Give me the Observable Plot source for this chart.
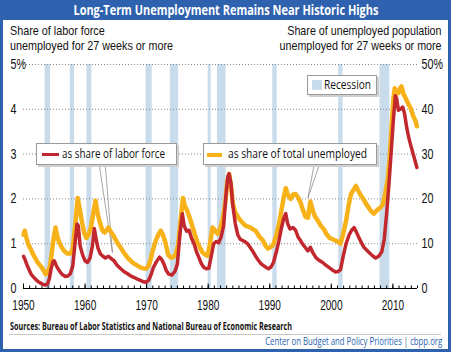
<!DOCTYPE html>
<html>
<head>
<meta charset="utf-8">
<script src="https://cdn.jsdelivr.net/npm/d3@7"></script>
<script src="https://cdn.jsdelivr.net/npm/@observablehq/plot@0.6"></script>
<style>
  html, body { margin: 0; padding: 0; background: #fff; }
  #frame { position: relative; width: 451px; height: 352px; background: #2f62ae; overflow: hidden;
    font-family: 'Open Sans', 'Liberation Sans', sans-serif; color: #111; }
  #title { position: absolute; left: 0; top: 0; width: 451px; height: 20px; line-height: 20px; text-align: center;
    color: #fff; font-weight: bold; font-size: 14px; white-space: nowrap; }
  #panel { position: absolute; left: 3px; top: 20px; width: 445px; height: 329px; background: #fff; }
  .tx { position: absolute; display: inline-block; white-space: nowrap; }
  .f13 { font-size: 13px; line-height: 13px; }
  .f10 { font-size: 10px; line-height: 10px; }
  .hd { font-family: 'Liberation Sans', Arial, sans-serif; font-size: 13px; line-height: 15px; }
  #chart { position: absolute; left: 0; top: 50px; }
  #chart svg { overflow: visible; }
  .lg { position: absolute; background: #fff; border: 1px solid #9a9a9a; box-shadow: 2px 2px 0 #d0d0d0; box-sizing: border-box; }
  .sw { position: absolute; }
  #sep { position: absolute; left: 9px; top: 334px; width: 432px; height: 1px; background: #c8c8c8; }
</style>
</head>
<body>
<div id="frame">
  <div id="title"><span class="fit" style="display:inline-block" data-w="305" data-o="center">Long-Term Unemployment Remains Near Historic Highs</span></div>
  <div id="panel"></div>

  <span class="tx hd fit" style="left:10px;top:22.7px" data-w="163" data-o="left">Share of labor force<br>unemployed for 27 weeks or more</span>
  <span class="tx hd fit" style="right:9px;top:22.7px;text-align:right" data-w="162" data-o="right">Share of unemployed population<br>unemployed for 27 weeks or more</span>

  <div id="chart"></div>

  <div class="lg" style="left:36px;top:143px;width:141px;height:22px;"></div>
  <div class="sw" style="left:42px;top:153px;width:17px;height:3px;background:#c1272d;"></div>
  <span class="tx f13 fit" style="left:62px;top:146.5px" data-w="103" data-o="left">as share of labor force</span>

  <div class="lg" style="left:203px;top:143px;width:174px;height:22px;"></div>
  <div class="sw" style="left:207px;top:153px;width:15px;height:4px;background:#f8b219;"></div>
  <span class="tx f13 fit" style="left:228px;top:146.5px" data-w="139" data-o="left">as share of total unemployed</span>

  <div class="lg" style="left:307px;top:75px;width:70px;height:20px;"></div>
  <div class="sw" style="left:312px;top:80px;width:10px;height:10px;background:#c8dcec;"></div>
  <span class="tx f13 fit" style="left:324px;top:77.5px" data-w="47" data-o="left">Recession</span>

  <span class="tx f10 fit" style="left:10px;top:321px;font-weight:bold" data-w="282" data-o="left">Sources: Bureau of Labor Statistics and National Bureau of Economic Research</span>
  <div id="sep"></div>
  <span class="tx f10 fit" style="right:9px;top:336px;color:#2a62ad" data-w="177" data-o="right">Center on Budget and Policy Priorities | cbpp.org</span>
</div>
<script>
// ---- Data ----
const recessionStarts = [1953.5, 1957.6, 1960.3, 1969.9, 1973.85, 1980.0, 1981.5, 1990.5, 2001.2, 2007.9];
const recessionEnds   = [1954.4, 1958.3, 1961.1, 1970.9, 1975.2, 1980.5, 1982.9, 1991.2, 2001.9, 2009.5];

// Long-term unemployed as share of labor force (%)
const laborDates = [1950.0,1950.2,1950.5,1950.8,1951.2,1951.6,1952.0,1952.4,1952.8,1953.2,1953.6,1953.9,1954.2,1954.5,1954.8,1955.0,1955.3,1955.6,1956.0,1956.4,1956.8,1957.2,1957.6,1958.0,1958.4,1958.7,1958.9,1959.2,1959.6,1960.0,1960.4,1960.8,1961.2,1961.5,1961.8,1962.1,1962.5,1962.9,1963.3,1963.8,1964.3,1964.7,1965.2,1965.8,1966.3,1966.9,1967.4,1967.9,1968.5,1969.0,1969.5,1969.9,1970.3,1970.7,1971.1,1971.6,1972.1,1972.4,1972.8,1973.2,1973.6,1974.1,1974.6,1975.0,1975.4,1975.8,1976.1,1976.5,1976.9,1977.3,1977.7,1978.1,1978.5,1978.9,1979.3,1979.7,1980.1,1980.5,1980.9,1981.3,1981.7,1982.1,1982.5,1982.9,1983.2,1983.4,1983.7,1984.0,1984.4,1984.8,1985.2,1985.6,1986.0,1986.4,1986.8,1987.2,1987.7,1988.2,1988.6,1989.0,1989.4,1989.8,1990.2,1990.6,1991.0,1991.5,1991.9,1992.3,1992.6,1992.9,1993.3,1993.8,1994.2,1994.6,1995.0,1995.4,1995.8,1996.2,1996.6,1997.0,1997.5,1998.0,1998.6,1999.1,1999.6,2000.1,2000.7,2001.1,2001.5,2001.9,2002.4,2002.9,2003.3,2003.7,2004.1,2004.5,2004.9,2005.3,2005.8,2006.3,2006.8,2007.2,2007.7,2008.2,2008.6,2009.0,2009.4,2009.8,2010.1,2010.4,2010.6,2010.9,2011.2,2011.6,2011.9,2012.3,2012.7,2013.1,2013.5,2013.9];
const laborShare = [0.72,0.66,0.55,0.45,0.33,0.26,0.20,0.15,0.12,0.09,0.08,0.10,0.22,0.45,0.60,0.62,0.52,0.44,0.36,0.30,0.27,0.28,0.33,0.50,1.05,1.44,1.40,0.95,0.75,0.62,0.58,0.68,0.95,1.34,1.10,0.90,0.77,0.72,0.68,0.72,0.66,0.62,0.52,0.44,0.38,0.33,0.28,0.25,0.21,0.18,0.15,0.14,0.18,0.30,0.47,0.60,0.70,0.66,0.55,0.40,0.32,0.30,0.38,0.55,1.20,1.67,1.40,1.28,1.30,1.12,1.00,0.82,0.69,0.55,0.47,0.44,0.45,0.72,1.00,1.05,1.02,1.15,1.40,2.10,2.50,2.56,2.35,1.85,1.45,1.20,1.10,1.07,1.04,1.00,0.92,0.84,0.72,0.62,0.55,0.51,0.47,0.44,0.48,0.58,0.78,1.07,1.35,1.58,1.67,1.45,1.33,1.36,1.30,1.15,1.07,0.98,0.91,0.84,0.92,0.80,0.69,0.63,0.58,0.52,0.47,0.42,0.37,0.38,0.42,0.70,1.00,1.20,1.30,1.36,1.25,1.13,1.02,0.92,0.85,0.78,0.72,0.68,0.72,0.82,1.10,1.70,2.40,3.20,3.80,4.30,4.25,3.98,4.00,4.05,3.90,3.55,3.30,3.10,2.90,2.70];

// Long-term unemployed as share of total unemployed (%)
const unempDates = [1950.0,1950.2,1950.5,1950.8,1951.1,1951.5,1951.9,1952.3,1952.8,1953.2,1953.6,1953.9,1954.3,1954.6,1954.9,1955.2,1955.5,1955.8,1956.2,1956.6,1957.1,1957.6,1958.0,1958.4,1958.8,1959.1,1959.5,1959.9,1960.2,1960.6,1961.0,1961.3,1961.7,1962.0,1962.4,1962.8,1963.2,1963.8,1964.2,1964.6,1965.2,1965.8,1966.3,1966.9,1967.4,1967.9,1968.5,1969.0,1969.5,1969.9,1970.3,1970.6,1971.0,1971.5,1971.9,1972.3,1972.7,1973.1,1973.5,1973.9,1974.3,1974.7,1975.1,1975.5,1975.9,1976.2,1976.6,1977.0,1977.5,1977.9,1978.3,1978.7,1979.1,1979.5,1979.9,1980.3,1980.7,1981.1,1981.5,1981.9,1982.4,1982.8,1983.1,1983.4,1983.7,1984.0,1984.4,1984.9,1985.3,1985.7,1986.1,1986.5,1986.9,1987.3,1987.7,1988.3,1988.9,1989.3,1989.7,1990.1,1990.5,1991.0,1991.5,1991.9,1992.3,1992.6,1992.9,1993.4,1993.8,1994.2,1994.6,1995.0,1995.4,1995.8,1996.2,1996.6,1996.9,1997.3,1997.8,1998.3,1998.8,1999.2,1999.7,2000.2,2000.7,2001.1,2001.5,2001.9,2002.4,2002.8,2003.2,2003.6,2004.0,2004.3,2004.7,2005.1,2005.6,2006.1,2006.5,2006.9,2007.3,2007.7,2008.1,2008.4,2008.8,2009.2,2009.5,2009.8,2010.1,2010.3,2010.6,2010.9,2011.2,2011.4,2011.7,2012.1,2012.5,2012.9,2013.3,2013.7,2013.9];
const unempShare = [12.0,12.9,11.2,9.8,9.0,7.8,6.8,5.8,5.0,4.2,3.2,3.5,5.0,8.0,11.3,13.6,11.5,10.3,9.2,8.4,7.8,7.8,8.8,14.0,20.2,18.0,14.8,12.3,11.3,12.0,14.0,16.5,19.6,17.0,14.8,13.0,12.5,13.6,12.6,11.8,10.3,9.1,8.0,6.9,6.2,5.6,5.1,4.7,4.5,4.4,5.0,6.2,8.5,10.7,12.0,12.9,11.8,10.0,7.5,6.9,7.0,7.6,9.5,15.0,20.2,18.5,17.3,15.8,13.6,11.8,10.0,9.0,8.0,7.6,7.3,10.0,13.6,13.0,12.2,13.2,15.8,19.5,24.0,25.6,23.0,19.0,17.0,15.8,15.1,14.5,14.0,13.8,13.6,13.2,12.9,11.6,10.7,9.6,8.9,9.2,9.6,11.5,14.4,17.5,20.5,22.4,21.0,20.0,21.0,21.1,20.3,19.2,17.5,16.0,15.8,19.4,17.8,16.2,15.2,14.0,13.2,12.2,11.3,11.0,10.7,10.4,10.0,12.0,15.1,18.5,21.1,22.0,22.9,22.0,21.0,20.2,19.0,18.0,17.2,16.7,17.3,17.8,18.2,18.9,21.5,24.7,29.5,36.5,42.5,44.7,43.5,43.6,44.8,45.1,43.5,42.4,41.2,40.2,38.5,37.3,36.2];

const leftTicks = [0, 1, 2, 3, 4, 5];          // % of labor force (right axis shows x10)
const decadeTicks = [1950, 1960, 1970, 1980, 1990, 2000, 2010];
const yearTicks = d3.range(1950, 2015);

// ---- Build tables ----
const recessions = recessionStarts.map((s, i) => ({start: s, end: recessionEnds[i]}));
const labor = laborDates.map((d, i) => ({date: d, value: laborShare[i]}));
const unemp = unempDates.map((d, i) => ({date: d, value: unempShare[i]}));
// callout pointers: from legend box bottom edge to a point on the series
const callouts = [
  {x1: 1962.35, y1: 2.72, x2: 1964.45, y2: 0.80},
  {x1: 1963.3,  y1: 2.72, x2: 1964.45, y2: 0.80},
  {x1: 1997.15, y1: 2.72, x2: 1996.2,  y2: 2.02},
  {x1: 1997.95, y1: 2.72, x2: 1996.2,  y2: 2.02}
];

const RED = "#c1272d", ORANGE = "#f8b219", BAND = "#c8dcec";

const chart = Plot.plot({
  width: 451,
  height: 270,
  marginLeft: 23,
  marginRight: 34,
  marginTop: 14,
  marginBottom: 32,
  x: {domain: [1950, 2014], label: null},
  y: {domain: [0, 5], label: null},
  style: {
    fontFamily: "'Liberation Sans', Arial, sans-serif",
    fontSize: "14px",
    color: "#111",
    background: "transparent"
  },
  marks: [
    Plot.rect(recessions, {x1: "start", x2: "end", y1: 0, y2: 5, fill: BAND}),
    Plot.gridY([1, 2, 3, 4, 5], {stroke: "#8a8a8a", strokeOpacity: 1, strokeDasharray: "1,2"}),
    Plot.axisY(leftTicks, {anchor: "left", tickSize: 0, tickPadding: 3, textAnchor: "start", dx: -10,
      tickFormat: d => d === 5 ? "5%" : String(d), fontSize: 14}),
    Plot.axisY(leftTicks, {anchor: "right", tickSize: 0, tickPadding: 4,
      tickFormat: d => d === 5 ? "50%" : String(d * 10), fontSize: 14}),
    Plot.axisX(decadeTicks, {anchor: "bottom", tickSize: 0, tickPadding: 12, tickFormat: d => String(d), fontSize: 14}),
    Plot.ruleX(yearTicks, {x: d => d, y1: 0, y2: 0, insetTop: -2.5, stroke: "#000", strokeWidth: 1}),
    Plot.ruleX(decadeTicks, {x: d => d, y1: 0, y2: 0, insetTop: -4.5, stroke: "#000", strokeWidth: 1}),
    Plot.ruleY([0], {stroke: "#000", strokeWidth: 1.2}),
    Plot.link(callouts, {x1: "x1", y1: "y1", x2: "x2", y2: "y2", stroke: "#8f8f8f", strokeWidth: 0.8}),
    Plot.lineY(unemp, {x: "date", y: d => d.value / 10, stroke: ORANGE, strokeWidth: 4.5, strokeLinejoin: "round"}),
    Plot.lineY(labor, {x: "date", y: "value", stroke: RED, strokeWidth: 3.5, strokeLinejoin: "round"})
  ]
});
document.getElementById("chart").appendChild(chart);

// ---- condense text horizontally (the reference uses a condensed face) ----
function fitHtml() {
  document.querySelectorAll(".fit").forEach(el => {
    el.style.transform = "none";
    const w = el.getBoundingClientRect().width;
    const target = +el.dataset.w;
    el.style.transformOrigin = el.dataset.o + " center";
    el.style.transform = `scaleX(${target / w})`;
  });
}
function condenseSvg(selector, k, origin) {
  chart.querySelectorAll(selector).forEach(t => {
    const b = t.getBBox();
    const cx = origin === "start" ? b.x : b.x + b.width / 2;
    const tr = t.getAttribute("transform") || "";
    t.setAttribute("transform", `${tr} translate(${cx},0) scale(${k},1) translate(${-cx},0)`);
  });
}
fitHtml();
condenseSvg('g[aria-label="x-axis tick label"] text', 0.72, "middle");
condenseSvg('g[aria-label="y-axis tick label"] text', 0.77, "start");
</script>
</body>
</html>
